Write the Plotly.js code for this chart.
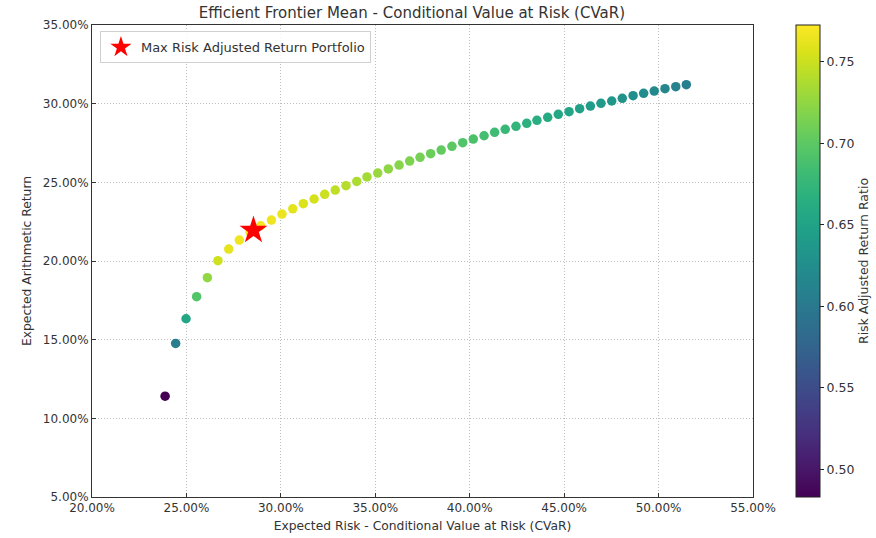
<!DOCTYPE html>
<html>
<head>
<meta charset="utf-8">
<script src="https://cdn.plot.ly/plotly-3.0.1.min.js"></script>
<style>html,body{margin:0;padding:0;background:#fff;}#chart{width:876px;height:538px;}</style>
</head>
<body>
<div id="chart"></div>
<script>
// Expected risk (CVaR, %) of each frontier portfolio
const riskCVaR = [23.87,24.43,24.98,25.54,26.11,26.67,27.24,27.80,28.37,28.93,
  29.50,30.06,30.63,31.19,31.76,32.32,32.88,33.45,34.02,34.56,
  35.13,35.69,36.26,36.82,37.37,37.93,38.49,39.06,39.63,40.19,
  40.76,41.32,41.88,42.45,43.02,43.56,44.13,44.69,45.26,45.82,
  46.39,46.95,47.52,48.08,48.65,49.21,49.77,50.34,50.91,51.47];
// Expected arithmetic return (%)
const expReturn = [11.41,14.76,16.33,17.73,18.94,20.02,20.76,21.33,21.82,22.24,
  22.60,22.98,23.32,23.64,23.94,24.24,24.51,24.79,25.06,25.34,
  25.59,25.85,26.10,26.35,26.59,26.82,27.05,27.29,27.52,27.75,
  27.96,28.18,28.37,28.56,28.75,28.94,29.13,29.32,29.49,29.68,
  29.85,30.02,30.17,30.34,30.51,30.66,30.80,30.95,31.08,31.21];
// Risk adjusted return ratio (colour)
const ratio = [0.478,0.604,0.654,0.694,0.725,0.751,0.762,0.767,0.769,0.769,
  0.766,0.764,0.761,0.758,0.754,0.750,0.745,0.741,0.737,0.733,
  0.728,0.724,0.720,0.716,0.712,0.707,0.703,0.699,0.694,0.690,
  0.686,0.682,0.677,0.673,0.668,0.664,0.660,0.656,0.652,0.648,
  0.643,0.639,0.635,0.631,0.627,0.623,0.619,0.615,0.610,0.606];
// Max risk adjusted return portfolio
const maxRisk = [28.55];
const maxReturn = [21.95];
const xTicks = [20,25,30,35,40,45,50,55];
const yTicks = [5,10,15,20,25,30,35];
const cbTicks = [0.50,0.55,0.60,0.65,0.70,0.75];

const font = 'DejaVu Sans, sans-serif';
const txt = '#333';

const traces = [
  {
    x: riskCVaR, y: expReturn, type: 'scatter', mode: 'markers', showlegend: false,
    marker: {
      size: 9.5, color: ratio, colorscale: 'Viridis', cmin: 0.483, cmax: 0.7725,
      line: {width: 0},
      colorbar: {
        x: 1.065, xanchor: 'left', y: 0.5, yanchor: 'middle', len: 1, lenmode: 'fraction',
        thickness: 24, thicknessmode: 'pixels', outlinewidth: 1, outlinecolor: '#222',
        tickvals: cbTicks, ticktext: cbTicks.map(v => v.toFixed(2)),
        ticks: 'outside', ticklen: 4, tickcolor: '#222', xpad: 0, ypad: 0,
        tickfont: {family: font, size: 12.5, color: txt},
        title: {text: 'Risk Adjusted Return Ratio', side: 'right', font: {family: font, size: 12.5, color: txt}}
      }
    }
  },
  {
    x: maxRisk, y: maxReturn, type: 'scatter', mode: 'markers',
    name: 'Max Risk Adjusted Return Portfolio',
    marker: {symbol: 'star', size: 21, color: '#ff0000', line: {width: 0}}
  }
];

const layout = {
  width: 876, height: 538,
  margin: {l: 92, r: 123, t: 25, b: 41, autoexpand: false},
  paper_bgcolor: '#fff', plot_bgcolor: '#fff',
  font: {family: font, size: 12, color: txt},
  title: {text: 'Efficient Frontier Mean - Conditional Value at Risk (CVaR)', x: 0.484, xref: 'paper', xanchor: 'center', y: 0.977, yanchor: 'middle',
    font: {family: font, size: 15, color: txt}},
  xaxis: {
    range: [20, 55], tickvals: xTicks, ticktext: xTicks.map(v => v.toFixed(2) + '%'),
    showline: true, linecolor: '#333', linewidth: 1, mirror: true,
    ticks: 'inside', ticklen: 4, tickcolor: '#333',
    showgrid: true, gridcolor: '#bdbdbd', griddash: '1px,2px', gridwidth: 1, zeroline: false,
    tickfont: {family: font, size: 12, color: txt},
    title: {text: 'Expected Risk - Conditional Value at Risk (CVaR)', standoff: 6, font: {family: font, size: 12.3, color: txt}}
  },
  yaxis: {
    range: [5, 35], tickvals: yTicks, ticktext: yTicks.map(v => v.toFixed(2) + '%'),
    showline: true, linecolor: '#333', linewidth: 1, mirror: true,
    ticks: 'inside', ticklen: 4, tickcolor: '#333',
    showgrid: true, gridcolor: '#bdbdbd', griddash: '1px,2px', gridwidth: 1, zeroline: false,
    tickfont: {family: font, size: 12, color: txt},
    title: {text: 'Expected Arithmetic Return', standoff: 8, font: {family: font, size: 12.3, color: txt}}
  },
  legend: {
    x: 0.012, y: 0.987, xanchor: 'left', yanchor: 'top',
    bgcolor: 'rgba(255,255,255,0.8)', bordercolor: '#d0d0d0', borderwidth: 1,
    font: {family: font, size: 13, color: txt}
  }
};

Plotly.newPlot('chart', traces, layout, {displayModeBar: false, staticPlot: true});
</script>
</body>
</html>
